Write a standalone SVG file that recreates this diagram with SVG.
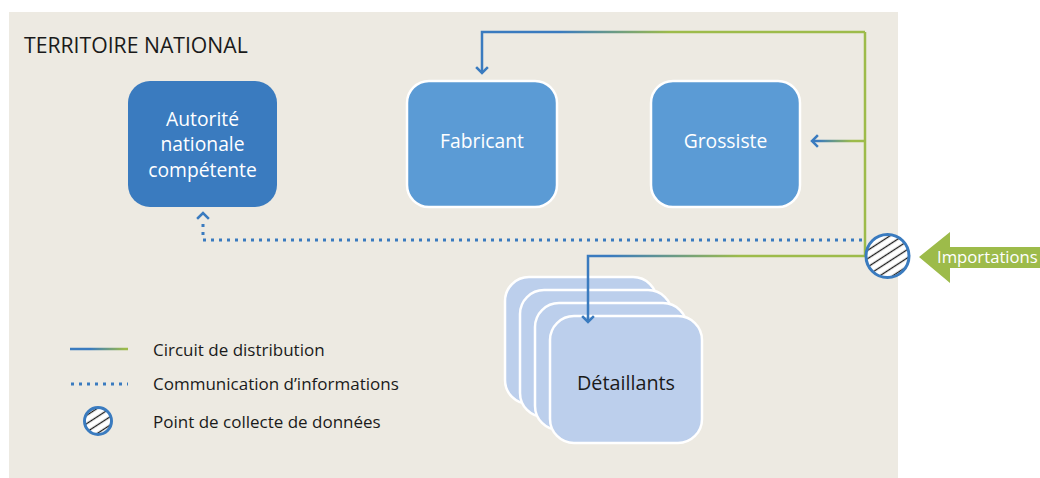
<svg xmlns="http://www.w3.org/2000/svg" width="1040" height="478" viewBox="0 0 1040 478">
  <defs>
    <style>
      .lbl { font-family: "Open Sans", "Noto Sans", sans-serif; }
      .white { fill: #ffffff; font-size: 19.3px; text-anchor: middle; }
      .dark { fill: #1a1a1a; }
      .legend { font-size: 17px; }
      .flow { fill: none; stroke-width: 2.5; }
      .dots { fill: none; stroke: #3a7bbf; stroke-width: 3; stroke-dasharray: 3 5; }
      .head { fill: none; stroke: #3a7bbf; stroke-width: 2.5; stroke-linecap: square; }
      .retail { fill: #bccfec; stroke: #ffffff; stroke-width: 2.5; }
      .unit { fill: #5b9bd5; stroke: #ffffff; stroke-width: 2.5; }
    </style>
    <linearGradient id="gTop" gradientUnits="userSpaceOnUse" x1="560" y1="0" x2="670" y2="0">
      <stop offset="0" stop-color="#3a7bbf"/>
      <stop offset="1" stop-color="#9dbb4a"/>
    </linearGradient>
    <linearGradient id="gWholesale" gradientUnits="userSpaceOnUse" x1="818" y1="0" x2="852" y2="0">
      <stop offset="0" stop-color="#3a7bbf"/>
      <stop offset="1" stop-color="#9dbb4a"/>
    </linearGradient>
    <linearGradient id="gRetail" gradientUnits="userSpaceOnUse" x1="610" y1="0" x2="740" y2="0">
      <stop offset="0" stop-color="#3a7bbf"/>
      <stop offset="1" stop-color="#9dbb4a"/>
    </linearGradient>
    <linearGradient id="gLegend" gradientUnits="userSpaceOnUse" x1="90" y1="0" x2="125" y2="0">
      <stop offset="0" stop-color="#3a7bbf"/>
      <stop offset="1" stop-color="#9dbb4a"/>
    </linearGradient>
    <pattern id="hatch" patternUnits="userSpaceOnUse" width="20" height="7" patternTransform="rotate(-33)">
      <rect width="20" height="7" fill="#ffffff"/>
      <line x1="0" y1="3.5" x2="20" y2="3.5" stroke="#1a1a1a" stroke-width="1.3"/>
    </pattern>
  </defs>

  <!-- national territory panel -->
  <rect x="9" y="12" width="889" height="466" fill="#edeae2"/>
  <text class="lbl dark" x="24" y="53" font-size="21.2">TERRITOIRE NATIONAL</text>

  <g id="autorite">
    <rect x="128" y="81" width="149" height="126" rx="22" fill="#3a7bbf"/>
    <text class="lbl white" x="202.5" y="126">Autorité</text>
    <text class="lbl white" x="202.5" y="151">nationale</text>
    <text class="lbl white" x="202.5" y="177">compétente</text>
  </g>

  <g id="fabricant">
    <rect class="unit" x="407" y="81" width="150" height="126" rx="22"/>
    <text class="lbl white" x="482" y="148">Fabricant</text>
  </g>

  <g id="grossiste">
    <rect class="unit" x="651" y="81" width="149" height="126" rx="22"/>
    <text class="lbl white" x="725.5" y="148">Grossiste</text>
  </g>

  <g id="detaillants">
    <rect class="retail" x="505" y="277" width="152" height="127" rx="24"/>
    <rect class="retail" x="520" y="290" width="152" height="127" rx="24"/>
    <rect class="retail" x="535" y="303" width="152" height="127" rx="24"/>
    <rect class="retail" x="550" y="316" width="152" height="127" rx="24"/>
    <text class="lbl dark" x="626" y="390" font-size="19.8" text-anchor="middle">Détaillants</text>
  </g>

  <!-- connectors -->
  <g id="connectors">
    <!-- supply loop to manufacturer -->
    <path class="flow" stroke="url(#gTop)" d="M865 32 H482 V73"/>
    <path class="flow" stroke="#9dbb4a" d="M865 32 V256"/>
    <path class="head" d="M477 68 L482 73 L487 68"/>
    <!-- to wholesaler -->
    <path class="flow" stroke="url(#gWholesale)" d="M865 141 H812"/>
    <path class="head" d="M817 136 L812 141 L817 146"/>
    <!-- to retailers -->
    <path class="flow" stroke="url(#gRetail)" d="M865 256 H588 V322"/>
    <path class="head" d="M583 317 L588 322 L593 317"/>
    <!-- information to authority -->
    <path class="dots" d="M862 240 H203 V220"/>
    <path class="head" d="M198 218 L203 213 L208 218"/>
  </g>

  <!-- import arrow -->
  <g id="importations">
    <path d="M919 257 L950 232 V247 H1040 V268 H950 V283 Z" fill="#9dbb4a"/>
    <text class="lbl" x="937" y="263" font-size="16.7" fill="#ffffff">Importations</text>
  </g>

  <!-- data collection point -->
  <g id="collecte">
    <circle cx="887.5" cy="256" r="21.5" fill="url(#hatch)" stroke="#3a7bbf" stroke-width="3"/>
  </g>

  <!-- legend -->
  <g id="legende">
    <line x1="70" y1="349" x2="128" y2="349" stroke="url(#gLegend)" stroke-width="2.5"/>
    <line class="dots" x1="71" y1="384" x2="128" y2="384"/>
    <circle cx="98" cy="421" r="13.5" fill="url(#hatch)" stroke="#3a7bbf" stroke-width="3"/>
    <text class="lbl dark legend" x="153" y="356">Circuit de distribution</text>
    <text class="lbl dark legend" x="153" y="390">Communication d’informations</text>
    <text class="lbl dark legend" x="153" y="428">Point de collecte de données</text>
  </g>
</svg>
